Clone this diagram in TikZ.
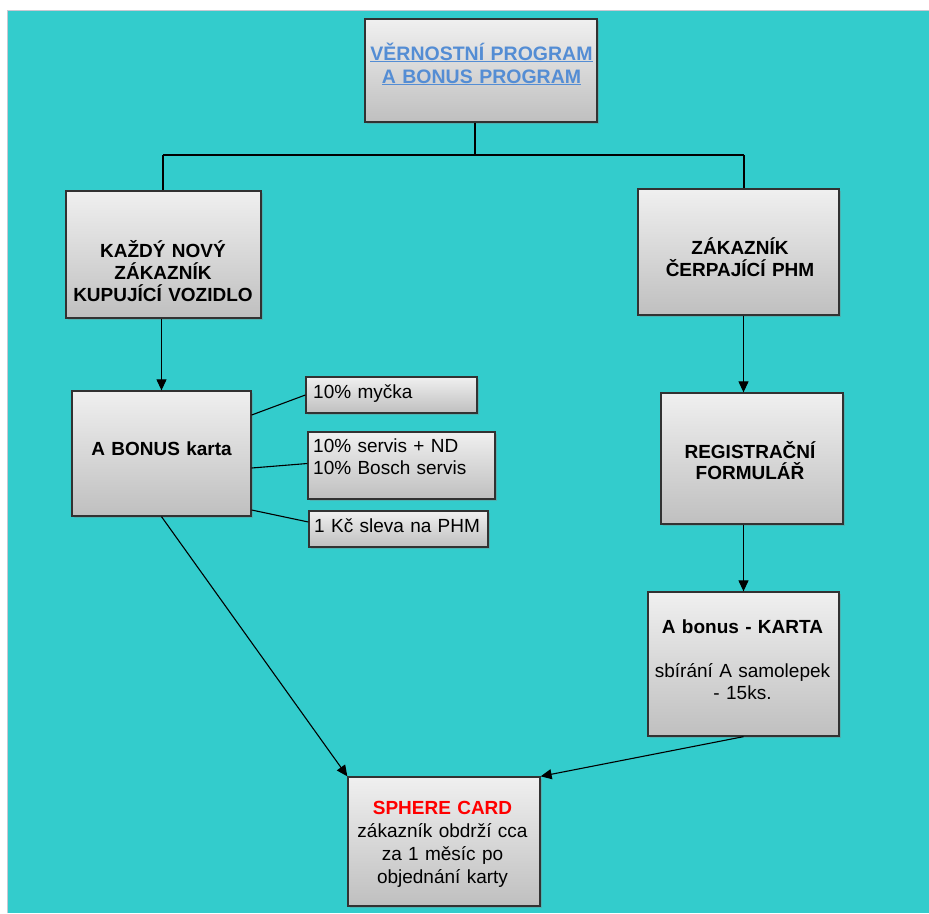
\documentclass[tikz,border=0pt]{standalone}
\usepackage{fontspec}
\setmainfont{Liberation Sans}
\usetikzlibrary{arrows.meta,shadows}
\definecolor{teal1}{RGB}{51,204,204}
\definecolor{edgegray}{RGB}{200,200,210}
\definecolor{linkblue}{RGB}{84,141,212}
\definecolor{boxline}{RGB}{50,50,50}
\begin{document}
\begin{tikzpicture}[x=1pt,y=-1pt,
  box/.style={rectangle, draw=boxline, line width=1.3pt, top color=gray!12, bottom color=gray!50,
    drop shadow={shadow xshift=1.5pt, shadow yshift=-1.5pt, opacity=0.35}, inner sep=0pt},
  txt/.style={inner sep=0pt, anchor=base, align=center, text width=240pt,
    font=\fontsize{19}{22.5}\selectfont},
  ltxt/.style={inner sep=0pt, anchor=base west, align=left, text width=180pt,
    font=\fontsize{19}{22}\selectfont},
  conn/.style={line width=1.1pt, black},
  arr/.style={conn, -{Triangle[length=11pt,width=10pt]}}]
\useasboundingbox (0,0) rectangle (929,913);
\fill[white] (0,0) rectangle (929,913);
\fill[teal1] (8,11) rectangle (929,913);
\draw[edgegray, line width=1.2pt] (7.5,913) -- (7.5,10.5) -- (929,10.5);

% boxes
\node[box, minimum width=232pt, minimum height=103pt] (top) at (481,70.5) {};
\node[box, minimum width=195pt, minimum height=127pt] (l1) at (163.5,254.5) {};
\node[box, minimum width=201pt, minimum height=126pt] (r1) at (738.5,252) {};
\node[box, minimum width=179pt, minimum height=125pt] (b) at (161.5,453.5) {};
\node[box, minimum width=182pt, minimum height=131pt] (reg) at (752,458.5) {};
\node[box, minimum width=191pt, minimum height=144pt] (ab) at (743.5,664) {};
\node[box, minimum width=192pt, minimum height=129pt] (s) at (444,841.5) {};
\node[box, minimum width=171pt, minimum height=36pt] (m) at (391.5,395) {};
\node[box, minimum width=187pt, minimum height=67pt] (sv) at (401.5,465.5) {};
\node[box, minimum width=179pt, minimum height=36pt] (k) at (398.5,529) {};

% texts
\node[txt, text=linkblue, font=\fontsize{19.5}{23}\selectfont\bfseries] (topt) at (481.5,60)
  {\underline{VĚRNOSTNÍ PROGRAM}\\\underline{A BONUS PROGRAM}};
\node[txt, font=\fontsize{19}{22}\selectfont\bfseries] (l1t) at (163,257)
  {KAŽDÝ NOVÝ\\ZÁKAZNÍK\\KUPUJÍCÍ VOZIDLO};
\node[txt, font=\fontsize{19}{22}\selectfont\bfseries] (r1t) at (740,254)
  {ZÁKAZNÍK\\ČERPAJÍCÍ PHM};
\node[txt, font=\fontsize{19}{22}\selectfont\bfseries] (bt) at (161.5,455) {A BONUS karta};
\node[txt, font=\fontsize{19}{21}\selectfont\bfseries] (regt) at (750,458)
  {REGISTRAČNÍ\\FORMULÁŘ};
\node[txt, font=\fontsize{19}{22}\selectfont] (abt) at (742.5,633)
  {\textbf{A bonus - KARTA}\\[22pt]sbírání A samolepek\\- 15ks.};
\node[txt, font=\fontsize{19}{23}\selectfont] (st) at (442.5,814)
  {\textcolor{red}{\textbf{SPHERE CARD}}\\zákazník obdrží cca\\za 1 měsíc po\\objednání karty};
\node[ltxt] (mt) at (313,398) {10\% myčka};
\node[ltxt] (svt) at (313,452) {10\% servis + ND\\10\% Bosch servis};
\node[ltxt] (kt) at (314,532) {1 Kč sleva na PHM};

% connectors
\coordinate (j) at (475,155);
\coordinate (jl) at (163,155);
\coordinate (jr) at (744,155);
\draw[conn] (top.south -| j) -- (j);
\draw[conn] (jl) -- (jr);
\draw[conn] (jl) -- (l1.north -| jl);
\draw[conn] (jr) -- (r1.north -| jr);

\draw[arr] (l1.south -| b.north) -- (b.north);
\draw[arr] (r1.south -| ab.north) -- (reg.north -| ab.north);
\draw[arr] (reg.south -| ab.north) -- (ab.north);
\draw[arr] (b.south) -- (s.north west);
\draw[arr] (ab.south) -- (s.north east);

\draw[conn] ([yshift=38.5pt]b.east) -- (m.west);
\draw[conn] ([yshift=-14.5pt]b.east) -- ([yshift=2pt]sv.west);
\draw[conn] ([yshift=-56.5pt]b.east) -- ([yshift=7pt]k.west);
\end{tikzpicture}
\end{document}
